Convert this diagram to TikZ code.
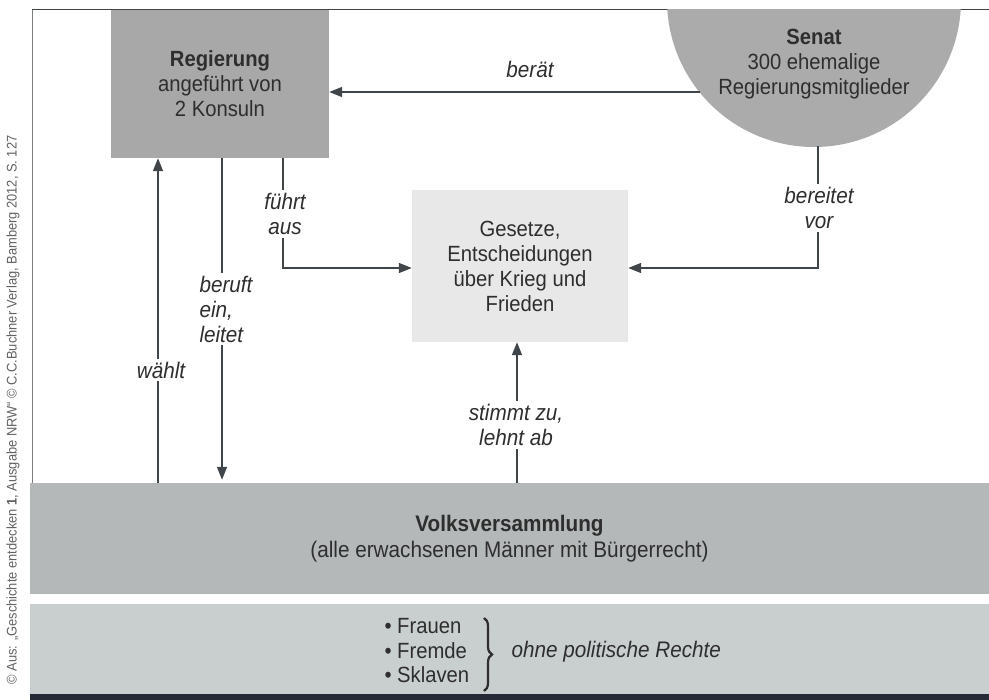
\documentclass[tikz,border=0pt]{standalone}
\usepackage{fontspec}
\setmainfont{Liberation Sans}[FakeStretch=0.92]
\usetikzlibrary{arrows.meta,calc,decorations.pathreplacing}
\definecolor{regfill}{HTML}{A8A8A8}
\definecolor{senfill}{HTML}{ABABAB}
\definecolor{gesfill}{HTML}{E8E8E8}
\definecolor{volkfill}{HTML}{B4B8B8}
\definecolor{lowfill}{HTML}{C9CECE}
\definecolor{ink}{HTML}{2E2E2E}
\definecolor{linecol}{HTML}{3F4548}
\definecolor{bottomcol}{HTML}{262A36}
\tikzset{
  base/.style={text=ink, font=\fontsize{22}{25}\selectfont},
  boxnode/.style={base, inner sep=0pt, align=center},
  arr/.style={draw=linecol, line width=1.6pt, -{Triangle[length=13pt,width=10pt]}},
  lab/.style={base, font=\fontsize{22.5}{25}\selectfont\itshape, fill=white, inner sep=3pt, align=center},
}
\begin{document}
\begin{tikzpicture}[x=1pt,y=-1pt]
\useasboundingbox (0,0) rectangle (989,700);
% frame lines
\draw[linecol, line width=1pt] (32,10) -- (989,10);
\draw[linecol!70, line width=0.8pt] (32,10) -- (32,483);
% Senat
\begin{scope}
\clip (600,10) rectangle (989,200);
\fill[senfill] (814,0) circle[radius=147pt];
\end{scope}
\node[boxnode] (senat) at (814,64) {\textbf{Senat}\\300 ehemalige\\Regierungsmitglieder};
\coordinate (senL) at (699.5,92);
\coordinate (senB) at (818,146.5);
% Regierung
\node[boxnode, fill=regfill, minimum width=218pt, minimum height=148pt] (reg) at (220,84)
  {\textbf{Regierung}\\angeführt von\\2 Konsuln};
% Gesetze
\node[boxnode, fill=gesfill, minimum width=216pt, minimum height=152pt] (ges) at (520,266)
  {Gesetze,\\Entscheidungen\\über Krieg und\\Frieden};
% Volksversammlung band
\node[boxnode, fill=volkfill, minimum width=959pt, minimum height=111pt, font=\fontsize{22.5}{26}\selectfont] (volk) at (509.5,538.5)
  {\textbf{Volksversammlung}\\(alle erwachsenen Männer mit Bürgerrecht)};
% lower band
\node[fill=lowfill, minimum width=959pt, minimum height=90pt, inner sep=0pt] (low) at (509.5,649) {};
\fill[bottomcol] (30,694) rectangle (989,700);
% coordinates for line positions
\coordinate (xw) at (158,0);
\coordinate (xb) at (222,0);
\coordinate (xf) at (283,0);
\coordinate (xs) at (517,0);
\coordinate (yh) at (0,268);
% connectors
\draw[arr] (senL) -- (senL -| reg.east);
\draw[arr] (xw |- volk.north) -- (xw |- reg.south);
\draw[arr] (xb |- reg.south) -- ($(xb |- volk.north)+(0,-3)$);
\draw[arr] (xf |- reg.south) -- (xf |- yh) -- (yh -| ges.west);
\draw[arr] (senB) -- (senB |- yh) -- (yh -| ges.east);
\draw[arr] (xs |- volk.north) -- (xs |- ges.south);
% labels
\node[base, font=\fontsize{22.5}{25}\selectfont\itshape, anchor=base] (lberaet) at (530,78) {berät};
\node[lab] (lwaehlt) at (161,370) {wählt};
\node[lab, align=left] (lberuft) at (226,309) {beruft\\ein,\\leitet};
\node[lab] (lfuehrt) at (285,214) {führt\\aus};
\node[lab] (lbereitet) at (819,208) {bereitet\\vor};
\node[lab] (lstimmt) at (516,425) {stimmt zu,\\lehnt ab};
% lower band content
\node[base, anchor=west, align=left, font=\fontsize{22}{24.5}\selectfont] (list) at (381,651)
  {\textbullet\ Frauen\\\textbullet\ Fremde\\\textbullet\ Sklaven};
\coordinate (brt) at (484,618);
\coordinate (brb) at (484,691);
\draw[ink, line width=2.2pt, decorate, decoration={brace, amplitude=8pt}] (brt) -- (brb);
\node[base, font=\fontsize{22.5}{25}\selectfont\itshape, anchor=west] (ohne) at (508,652) {ohne politische Rechte};
% side credit
\node[text=ink!75, font=\fontsize{14}{14}\selectfont, rotate=90, anchor=center] (credit) at (13,410)
  {© Aus: „Geschichte entdecken \textbf{1}, Ausgabe NRW“ © C.C.Buchner Verlag, Bamberg 2012, S. 127};
\end{tikzpicture}
\end{document}
